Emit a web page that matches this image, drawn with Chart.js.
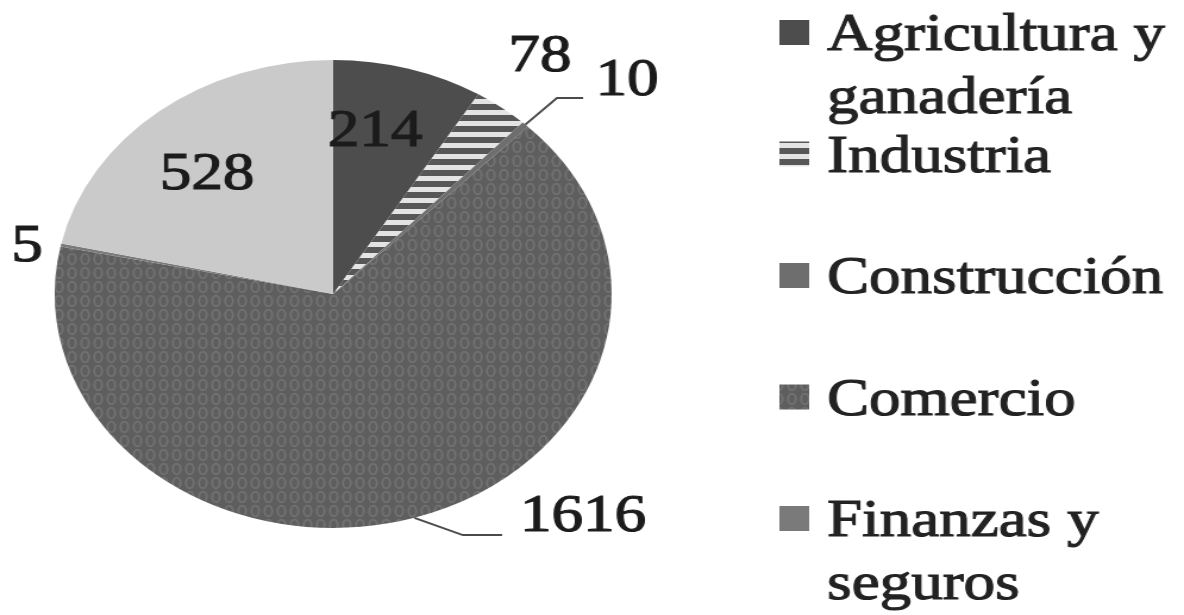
<!DOCTYPE html>
<html>
<head>
<meta charset="utf-8">
<script src="https://cdn.jsdelivr.net/npm/chart.js@4.4.1/dist/chart.umd.min.js"></script>
<style>
  html, body { margin: 0; padding: 0; background: #fff; overflow: hidden; }
  /* the source picture is stretched sideways, so stretch the canvas the same way */
  #wrap { width: 995px; height: 615px; transform: scaleX(1.18995); transform-origin: 0 0; }
</style>
</head>
<body>
<div id="wrap"><canvas id="pie" width="995" height="615"></canvas></div>
<script>
// Data
const SECTORS = ['Agricultura y ganadería', 'Industria', 'Construcción', 'Comercio', 'Finanzas y seguros', 'Servicios'];
const WORKERS = [214, 78, 10, 1616, 5, 528];

// Where each value label sits: radius factor and angle shift (deg) from the slice middle
const LABEL_SPOTS = [
  { r: 0.71, da: -3.5 },
  { r: 1.256, da: -0.9 },
  { r: 1.394, da: 5.6, lead: [[-59, 17], [-37, 17]] },
  { r: 1.309, da: -26.3, lead: [[-101, 18], [-68, 18]] },
  { r: 1.118, da: -1.7 },
  { r: 0.681, da: -2.9 },
];

const SERIF = '"Liberation Serif", "Times New Roman", serif';

function makePattern(w, h, paint) {
  const c = document.createElement('canvas');
  c.width = w; c.height = h;
  paint(c.getContext('2d'), w, h);
  return c.getContext('2d').createPattern(c, 'repeat');
}

// horizontal stripes (Industria)
const stripes = makePattern(10, 11, (g, w, h) => {
  g.fillStyle = '#575757'; g.fillRect(0, 0, w, h);
  g.fillStyle = '#e4e4e4'; g.fillRect(0, 0, w, 5);
});

// soft chain-like vertical texture (Comercio)
const chain = makePattern(11, 14, (g, w, h) => {
  g.fillStyle = '#5e5e5e'; g.fillRect(0, 0, w, h);
  g.strokeStyle = '#717171'; g.lineWidth = 2;
  g.beginPath(); g.ellipse(5.5, 7, 3.2, 5.2, 0, 0, Math.PI * 2); g.stroke();
});

const FILLS = ['#4d4d4d', stripes, '#6e6e6e', chain, '#7a7a7a', '#cacaca'];

// text a little heavier, like the scanned original
function heavyText(ctx, txt, x, y) {
  ctx.strokeText(txt, x, y);
  ctx.fillText(txt, x, y);
}

const pieLabels = {
  id: 'pieLabels',
  afterDatasetsDraw(chart) {
    const ctx = chart.ctx;
    const meta = chart.getDatasetMeta(0);
    ctx.save();
    ctx.font = '53px ' + SERIF;
    ctx.textAlign = 'center';
    ctx.textBaseline = 'middle';
    meta.data.forEach((arc, i) => {
      const { x, y, startAngle, endAngle, outerRadius } =
        arc.getProps(['x', 'y', 'startAngle', 'endAngle', 'outerRadius'], true);
      const spot = LABEL_SPOTS[i];
      const mid = (startAngle + endAngle) / 2;
      const a = mid + spot.da * Math.PI / 180;
      const tx = x + Math.cos(a) * outerRadius * spot.r;
      const ty = y + Math.sin(a) * outerRadius * spot.r;
      if (spot.lead) {
        ctx.strokeStyle = '#4a4a4a';
        ctx.lineWidth = 2;
        ctx.beginPath();
        ctx.moveTo(x + Math.cos(mid) * outerRadius, y + Math.sin(mid) * outerRadius);
        spot.lead.forEach(([dx, dy]) => ctx.lineTo(tx + dx, ty + dy));
        ctx.stroke();
      }
      ctx.fillStyle = '#1b1b1b';
      ctx.strokeStyle = '#1b1b1b';
      ctx.lineWidth = 1.2;
      heavyText(ctx, String(chart.data.datasets[0].data[i]), tx, ty);
    });
    ctx.restore();
  }
};

// legend on the right, one slot per sector, long names wrap
const sideLegend = {
  id: 'sideLegend',
  afterDraw(chart) {
    const ctx = chart.ctx;
    const fills = chart.data.datasets[0].backgroundColor;
    ctx.save();
    ctx.font = '53px ' + SERIF;
    ctx.textAlign = 'left';
    ctx.textBaseline = 'alphabetic';
    chart.data.labels.forEach((label, i) => {
      const base = 50 + i * 121.5;
      ctx.fillStyle = fills[i];
      ctx.fillRect(655, base - 30, 25, 25);
      // wrap words inside 300px
      const lines = [];
      let cur = '';
      label.split(' ').forEach(word => {
        const test = cur ? cur + ' ' + word : word;
        if (cur && ctx.measureText(test).width > 300) { lines.push(cur); cur = word; }
        else cur = test;
      });
      lines.push(cur);
      ctx.fillStyle = '#222';
      ctx.strokeStyle = '#222';
      ctx.lineWidth = 1.1;
      lines.forEach((ln, k) => heavyText(ctx, ln, 695, base + k * 63));
    });
    ctx.restore();
  }
};

new Chart(document.getElementById('pie'), {
  type: 'pie',
  data: {
    labels: SECTORS,
    datasets: [{
      data: WORKERS,
      backgroundColor: FILLS,
      borderWidth: 0,
    }],
  },
  options: {
    responsive: false,
    animation: false,
    layout: { padding: { left: 46, right: 481, top: 60, bottom: 87 } },
    plugins: {
      legend: { display: false },
      tooltip: { enabled: false },
    },
  },
  plugins: [pieLabels, sideLegend],
});
</script>
</body>
</html>
